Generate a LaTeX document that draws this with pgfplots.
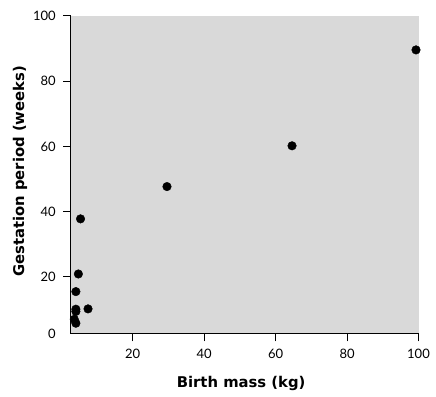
\documentclass[border=0pt]{standalone}
\usepackage{fontspec}
\setmainfont{Lato}
\newfontfamily\labelfont{DejaVu Sans}
\usepackage{pgfplots}
\pgfplotsset{compat=1.18}
\definecolor{bg}{RGB}{217,217,217}
\begin{document}
\begin{tikzpicture}
\path[use as bounding box] (0pt,0pt) rectangle (436pt,396pt);
\begin{axis}[
  at={(70.7pt,62pt)}, anchor=south west,
  scale only axis, width=347.8pt, height=318pt,
  xmin=2.65, xmax=100, ymin=2.5, ymax=100,
  axis x line*=bottom, axis y line*=left,
  axis line style={black, line width=1pt},
  axis background/.style={fill=bg},
  xtick={20,40,60,80,100}, ytick={20,40,60,80,100},
  extra y ticks={2.5}, extra y tick labels={0},
  extra y tick style={major tick style={draw=none}},
  tick align=outside, major tick length=7.5pt,
  tick style={black, line width=1pt},
  /pgf/number format/assume math mode=true,
  ticklabel style={font=\fontsize{13}{15}\selectfont},
  yticklabel style={xshift=-4pt},
  xticklabel style={yshift=-4pt},
  label style={font=\labelfont\bfseries\fontsize{14.8}{17}\selectfont},
  xlabel={Birth mass (kg)},
  ylabel={Gestation period (weeks)},
  xlabel style={at={(axis description cs:0.49,-0.154)}, anchor=center},
  ylabel style={at={(axis description cs:-0.1458,0.511)}, anchor=center},
  clip=false,
]
\addplot[only marks, mark=*, mark size=4.3pt, black] coordinates {
  (99.3,89.6) (64.6,60.2) (29.6,47.7) (5.4,37.8) (4.8,20.9) (4.1,15.5)
  (4.1,10.1) (4.1,9.4) (7.5,10.2) (3.65,7.0) (4.1,5.8)
};
\end{axis}
\end{tikzpicture}
\end{document}
